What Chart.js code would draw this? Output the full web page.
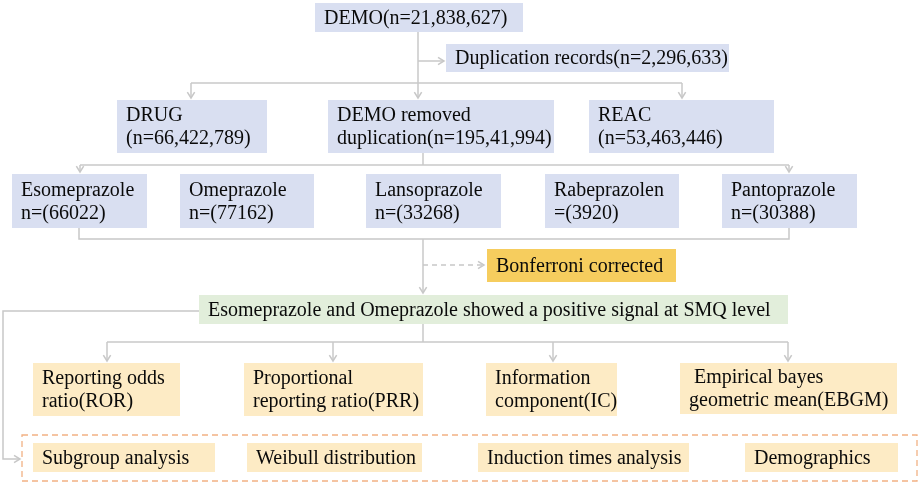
<!DOCTYPE html>
<html>
<head>
<meta charset="utf-8">
<script src="https://cdn.jsdelivr.net/npm/chart.js@4/dist/chart.umd.min.js"></script>
<style>
  html, body { margin: 0; padding: 0; background: #fff; }
  #wrap { width: 920px; height: 484px; position: relative; }
</style>
</head>
<body>
<div id="wrap"><canvas id="flow"></canvas></div>
<script>
// box labels (one entry per box, \n = line break)
const boxLabels = [
  'DEMO(n=21,838,627)',
  'Duplication records(n=2,296,633)',
  'DRUG\n(n=66,422,789)',
  'DEMO removed\nduplication(n=195,41,994)',
  'REAC\n(n=53,463,446)',
  'Esomeprazole\nn=(66022)',
  'Omeprazole\nn=(77162)',
  'Lansoprazole\nn=(33268)',
  'Rabeprazolen\n=(3920)',
  'Pantoprazole\nn=(30388)',
  'Bonferroni corrected',
  'Esomeprazole and Omeprazole showed a positive signal at SMQ level',
  'Reporting odds\nratio(ROR)',
  'Proportional\nreporting ratio(PRR)',
  'Information\ncomponent(IC)',
  ' Empirical bayes\ngeometric mean(EBGM)',
  'Subgroup analysis',
  'Weibull distribution',
  'Induction times analysis',
  'Demographics'
];
const boxKinds = ['blue','blue','blue','blue','blue','blue','blue','blue','blue','blue',
  'gold','green','cream','cream','cream','cream','cream','cream','cream','cream'];

// layout, in axis units (x 0..920, y 0..484 top-down)
const boxRects = [
  [315,3,523,32],[446,44,729,72],
  [117,100,267,153],[328,100,554,153],[589,100,774,153],
  [12,174,147,228],[180,174,314,228],[366,174,501,228],[545,174,679,228],[722,174,857,228],
  [487,249,676,282],[199,295,788,324],
  [33,363,180,416],[244,363,423,416],[486,363,617,416],[680,363,897,414],
  [33,443,215,472],[247,443,422,472],[478,443,689,472],[745,443,898,472]
];
// connectors: [points, arrow at end, dashed]
const links = [
  [[[418,32],[418,98]], true, false],
  [[[418,61],[444,61]], true, false],
  [[[191,83],[682,83]], false, false],
  [[[191,83],[191,98]], true, false],
  [[[682,83],[682,98]], true, false],
  [[[423,153],[423,165]], false, false],
  [[[80,165],[789,165]], false, false],
  [[[80,165],[80,172]], true, false],
  [[[789,165],[789,172]], true, false],
  [[[79,228],[79,239],[789,239],[789,228]], false, false],
  [[[423,239],[423,293]], true, false],
  [[[423,265],[484,265]], true, true],
  [[[199,311],[3,311],[3,459],[20,459]], true, false],
  [[[423,324],[423,342]], false, false],
  [[[107,342],[788,342]], false, false],
  [[[107,342],[107,361]], true, false],
  [[[333,342],[333,361]], true, false],
  [[[553,342],[553,361]], true, false],
  [[[788,342],[788,361]], true, false]
];
const groupFrame = [22,435,917,481];

const fills = { blue: '#d9dff1', gold: '#f6cd5e', green: '#e2eedb', cream: '#fdebc5' };
const lineColor = '#c8c8c8';

const flowPlugin = {
  id: 'flow',
  afterDraw(chart) {
    const ctx = chart.ctx;
    const sx = chart.scales.x, sy = chart.scales.y;
    const px = v => sx.getPixelForValue(v);
    const py = v => sy.getPixelForValue(v);
    ctx.save();

    // connectors
    ctx.strokeStyle = lineColor;
    ctx.lineWidth = 1.5;
    links.forEach(([pts, arrow, dashed]) => {
      ctx.setLineDash(dashed ? [5, 4] : []);
      ctx.beginPath();
      pts.forEach((p, i) => i ? ctx.lineTo(px(p[0]), py(p[1])) : ctx.moveTo(px(p[0]), py(p[1])));
      ctx.stroke();
      if (arrow) {
        const a = pts[pts.length - 2], b = pts[pts.length - 1];
        const x = px(b[0]), y = py(b[1]);
        const ang = Math.atan2(py(b[1]) - py(a[1]), px(b[0]) - px(a[0]));
        ctx.setLineDash([]);
        ctx.beginPath();
        ctx.moveTo(x - 7 * Math.cos(ang - 0.55), y - 7 * Math.sin(ang - 0.55));
        ctx.lineTo(x, y);
        ctx.lineTo(x - 7 * Math.cos(ang + 0.55), y - 7 * Math.sin(ang + 0.55));
        ctx.stroke();
      }
    });

    // dashed frame round the last row
    ctx.setLineDash([6, 4]);
    ctx.strokeStyle = '#f2b184';
    ctx.lineWidth = 1.3;
    ctx.strokeRect(px(groupFrame[0]), py(groupFrame[1]),
      px(groupFrame[2]) - px(groupFrame[0]), py(groupFrame[3]) - py(groupFrame[1]));
    ctx.setLineDash([]);

    // boxes + text
    ctx.font = '20px "Liberation Serif", "Times New Roman", serif';
    ctx.textBaseline = 'middle';
    ctx.textAlign = 'left';
    boxRects.forEach((r, i) => {
      const x0 = px(r[0]), y0 = py(r[1]), x1 = px(r[2]), y1 = py(r[3]);
      ctx.fillStyle = fills[boxKinds[i]];
      ctx.fillRect(x0, y0, x1 - x0, y1 - y0);
      const lines = boxLabels[i].split('\n');
      const lh = 23;
      const cy = (y0 + y1) / 2 - (lines.length - 1) * lh / 2 + 1;
      ctx.fillStyle = '#0a0a0a';
      lines.forEach((t, k) => ctx.fillText(t, x0 + 9, cy + k * lh));
    });
    ctx.restore();
  }
};

new Chart(document.getElementById('flow'), {
  type: 'scatter',
  data: { datasets: [{ data: [] }] },
  options: {
    responsive: true,
    maintainAspectRatio: false,
    animation: false,
    layout: { padding: 0 },
    plugins: { legend: { display: false }, tooltip: { enabled: false } },
    scales: {
      x: { type: 'linear', min: 0, max: 920, display: false },
      y: { type: 'linear', min: 0, max: 484, reverse: true, display: false }
    }
  },
  plugins: [flowPlugin]
});
</script>
</body>
</html>
